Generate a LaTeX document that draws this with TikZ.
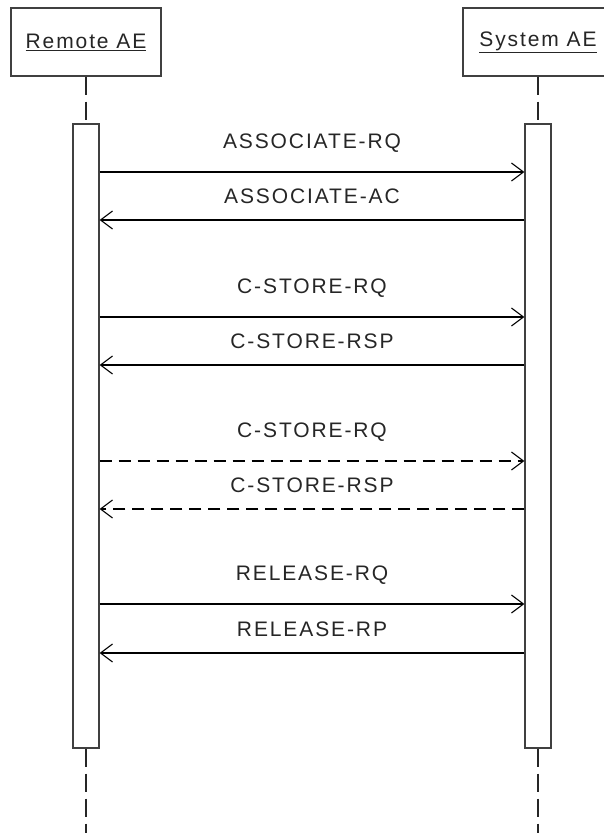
\documentclass[tikz,border=0pt]{standalone}
\usepackage{fontspec}
\newfontfamily\seqfont[LetterSpace=9]{Liberation Sans}
\usetikzlibrary{arrows.meta, positioning}

\begin{document}
\begin{tikzpicture}[
      x=1pt, y=-1pt,
      font=\seqfont\fontsize{21}{25}\selectfont,
      head/.style={rectangle, draw=black!75, line width=1.3pt, fill=white,
        minimum width=150pt, minimum height=68pt, text=black!85},
      actv/.style={rectangle, draw=black!75, line width=1.2pt, fill=white,
        minimum width=26pt, minimum height=624pt},
      life/.style={line width=1.3pt, dash pattern=on 18pt off 7pt, draw=black!85},
      msg/.style={-{Straight Barb[length=12pt, width=18pt]}, line width=1.1pt},
      later/.style={dash pattern=on 12pt off 7pt},
      req/.style={above=23pt, inner sep=0pt, text depth=0pt, text=black!85},
      rsp/.style={above=16pt, inner sep=0pt, text depth=0pt, text=black!85}
    ]
      \useasboundingbox (0,0) rectangle (604,833);
      % heads and activations
      \node[head] (remote) at (86,42) {\underline{Remote AE}};
      \node[head] (system) at (538,42) {\underline{System AE}};
      \node[actv] (ractv) at (86,436) {};
      \node[actv] (sactv) at (538,436) {};
      \coordinate (rend) at (86,833);
      \coordinate (send) at (538,833);
      \draw[life] (remote.south) -- (ractv.north);
      \draw[life] (ractv.south) -- (rend);
      \draw[life] (system.south) -- (sactv.north);
      \draw[life] (sactv.south) -- (send);
      % message heights
      \coordinate (m1) at (0,172);
      \coordinate (m2) at (0,220);
      \coordinate (m3) at (0,317);
      \coordinate (m4) at (0,365);
      \coordinate (m5) at (0,461);
      \coordinate (m6) at (0,509);
      \coordinate (m7) at (0,604);
      \coordinate (m8) at (0,653);
      \draw[msg] (ractv.east |- m1) -- node[req] (a1) {ASSOCIATE-RQ} (sactv.west |- m1);
      \draw[msg] (sactv.west |- m2) -- node[rsp] (a2) {ASSOCIATE-AC} (ractv.east |- m2);
      \draw[msg] (ractv.east |- m3) -- node[req] (a3) {C-STORE-RQ} (sactv.west |- m3);
      \draw[msg] (sactv.west |- m4) -- node[rsp] (a4) {C-STORE-RSP} (ractv.east |- m4);
      \draw[msg, later] (ractv.east |- m5) -- node[req] (a5) {C-STORE-RQ} (sactv.west |- m5);
      \draw[msg, later] (sactv.west |- m6) -- node[rsp] (a6) {C-STORE-RSP} (ractv.east |- m6);
      \draw[msg] (ractv.east |- m7) -- node[req] (a7) {RELEASE-RQ} (sactv.west |- m7);
      \draw[msg] (sactv.west |- m8) -- node[rsp] (a8) {RELEASE-RP} (ractv.east |- m8);
    \end{tikzpicture}
\end{document}
